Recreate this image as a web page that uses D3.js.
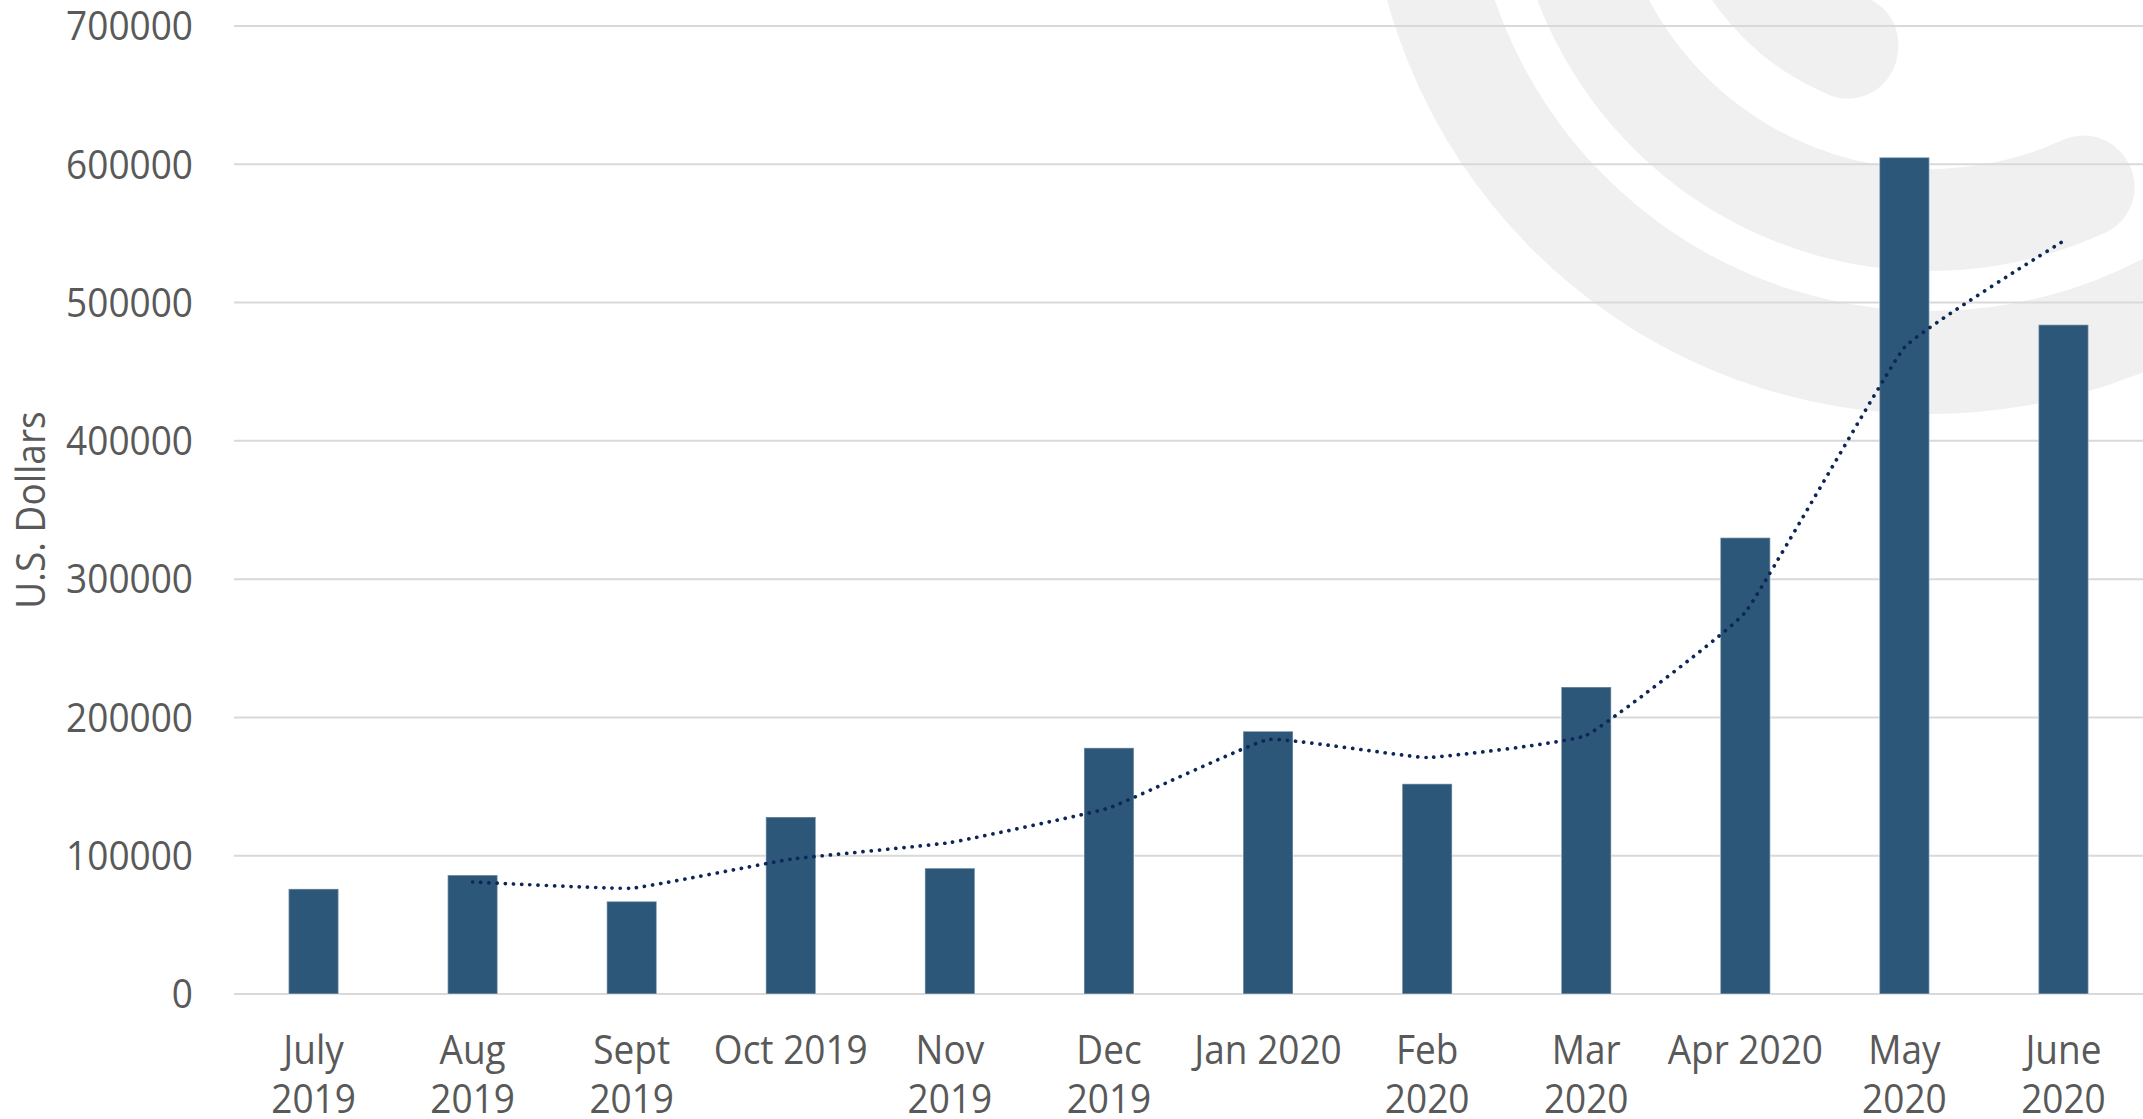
<!DOCTYPE html>
<html>
<head>
<meta charset="utf-8">
<script src="https://cdn.jsdelivr.net/npm/d3@7"></script>
<style>
  html, body { margin: 0; padding: 0; background: #fff; }
  svg { display: block; font-family: "Open Sans", sans-serif; }
</style>
</head>
<body>
<div id="chart"></div>
<script>
// Monthly values (U.S. Dollars)
var months = ["July 2019", "Aug 2019", "Sept 2019", "Oct 2019", "Nov 2019", "Dec 2019",
              "Jan 2020", "Feb 2020", "Mar 2020", "Apr 2020", "May 2020", "June 2020"];
var month_labels = [["July", "2019"], ["Aug", "2019"], ["Sept", "2019"], ["Oct 2019"],
                    ["Nov", "2019"], ["Dec", "2019"], ["Jan 2020"], ["Feb", "2020"],
                    ["Mar", "2020"], ["Apr 2020"], ["May", "2020"], ["June", "2020"]];
var amounts = [76000, 86000, 67000, 128000, 91000, 178000,
               190000, 152000, 222000, 330000, 605000, 484000];
var y_ticks = [0, 100000, 200000, 300000, 400000, 500000, 600000, 700000];
var y_title = "U.S. Dollars";
var trend_period = 2;

var create_chart = function() {
  // Change these to fine-tune the layout
  var width = 2143, height = 1119;
  var plot_left = 234, plot_right = 2143;
  var plot_top = 26, plot_bottom = 994;
  var font_size = 37;
  var stretch = "scale(1,1.1)";
  var text_color = "#595959";
  //////////////////////////////////

  var svg = d3.select("#chart").append("svg")
      .attr("width", width)
      .attr("height", height);

  var x_scale = d3.scaleBand()
      .domain(months)
      .range([plot_left, plot_right])
      .paddingInner(0.686)
      .paddingOuter(0.343);

  var y_scale = d3.scaleLinear()
      .domain([0, 700000])
      .range([plot_bottom, plot_top]);

  // Watermark: concentric bands behind the plot
  var mark = svg.append("g")
      .attr("transform", "translate(1930,-149)")
      .attr("fill", "#f0f0f0");
  var bands = [
    { inner: 460, outer: 563, start: 1.9, corner: 0 },
    { inner: 318, outer: 420, start: 2.575, corner: 50 },
    { inner: 160, outer: 264, start: 3.30, corner: 50 }
  ];
  bands.forEach(function(b) {
    mark.append("path").attr("d", d3.arc()
        .innerRadius(b.inner)
        .outerRadius(b.outer)
        .startAngle(b.start)
        .endAngle(5.0)
        .cornerRadius(b.corner)());
  });

  // Gridlines
  svg.append("g").selectAll("line")
      .data(y_ticks)
      .join("line")
      .attr("x1", plot_left)
      .attr("x2", plot_right)
      .attr("y1", function(d) { return y_scale(d); })
      .attr("y2", function(d) { return y_scale(d); })
      .attr("stroke", "#d9d9d9")
      .attr("stroke-width", 2);

  // Y tick labels
  svg.append("g").selectAll("text")
      .data(y_ticks)
      .join("text")
      .attr("transform", function(d) {
        return "translate(193," + y_scale(d) + ") " + stretch;
      })
      .attr("dy", "0.35em")
      .attr("text-anchor", "end")
      .attr("font-size", font_size)
      .attr("fill", text_color)
      .text(function(d) { return d; });

  // Y title
  svg.append("text")
      .attr("transform", "translate(45,510) rotate(-90) " + stretch)
      .attr("text-anchor", "middle")
      .attr("font-size", font_size)
      .attr("fill", text_color)
      .text(y_title);

  // Bars
  svg.append("g").selectAll("rect")
      .data(amounts)
      .join("rect")
      .attr("x", function(d, i) { return x_scale(months[i]); })
      .attr("y", function(d) { return y_scale(d); })
      .attr("width", x_scale.bandwidth())
      .attr("height", function(d) { return y_scale(0) - y_scale(d); })
      .attr("fill", "#2d5779")
      .attr("stroke", "rgba(255,255,255,0.35)")
      .attr("stroke-width", 1.5);

  // Moving-average trendline (period 2)
  var trend = [];
  for (var i = trend_period - 1; i < amounts.length; i++) {
    var sum = 0;
    for (var k = 0; k < trend_period; k++) sum += amounts[i - k];
    trend.push({ month: months[i], value: sum / trend_period });
  }
  var trend_line = d3.line()
      .x(function(d) { return x_scale(d.month) + x_scale.bandwidth() / 2; })
      .y(function(d) { return y_scale(d.value); })
      .curve(d3.curveCardinal.tension(0.72));
  svg.append("path")
      .attr("d", trend_line(trend))
      .attr("fill", "none")
      .attr("stroke", "#0c2659")
      .attr("stroke-width", 3.7)
      .attr("stroke-linecap", "round")
      .attr("stroke-dasharray", "0.1 8.1");

  // X labels
  var xl = svg.append("g");
  month_labels.forEach(function(lines, i) {
    var cx = x_scale(months[i]) + x_scale.bandwidth() / 2;
    lines.forEach(function(line, j) {
      xl.append("text")
          .attr("transform", "translate(" + cx + "," + (1064 + j * 49) + ") " + stretch)
          .attr("text-anchor", "middle")
          .attr("font-size", font_size)
          .attr("fill", text_color)
          .text(line);
    });
  });
}

create_chart();
</script>
</body>
</html>
